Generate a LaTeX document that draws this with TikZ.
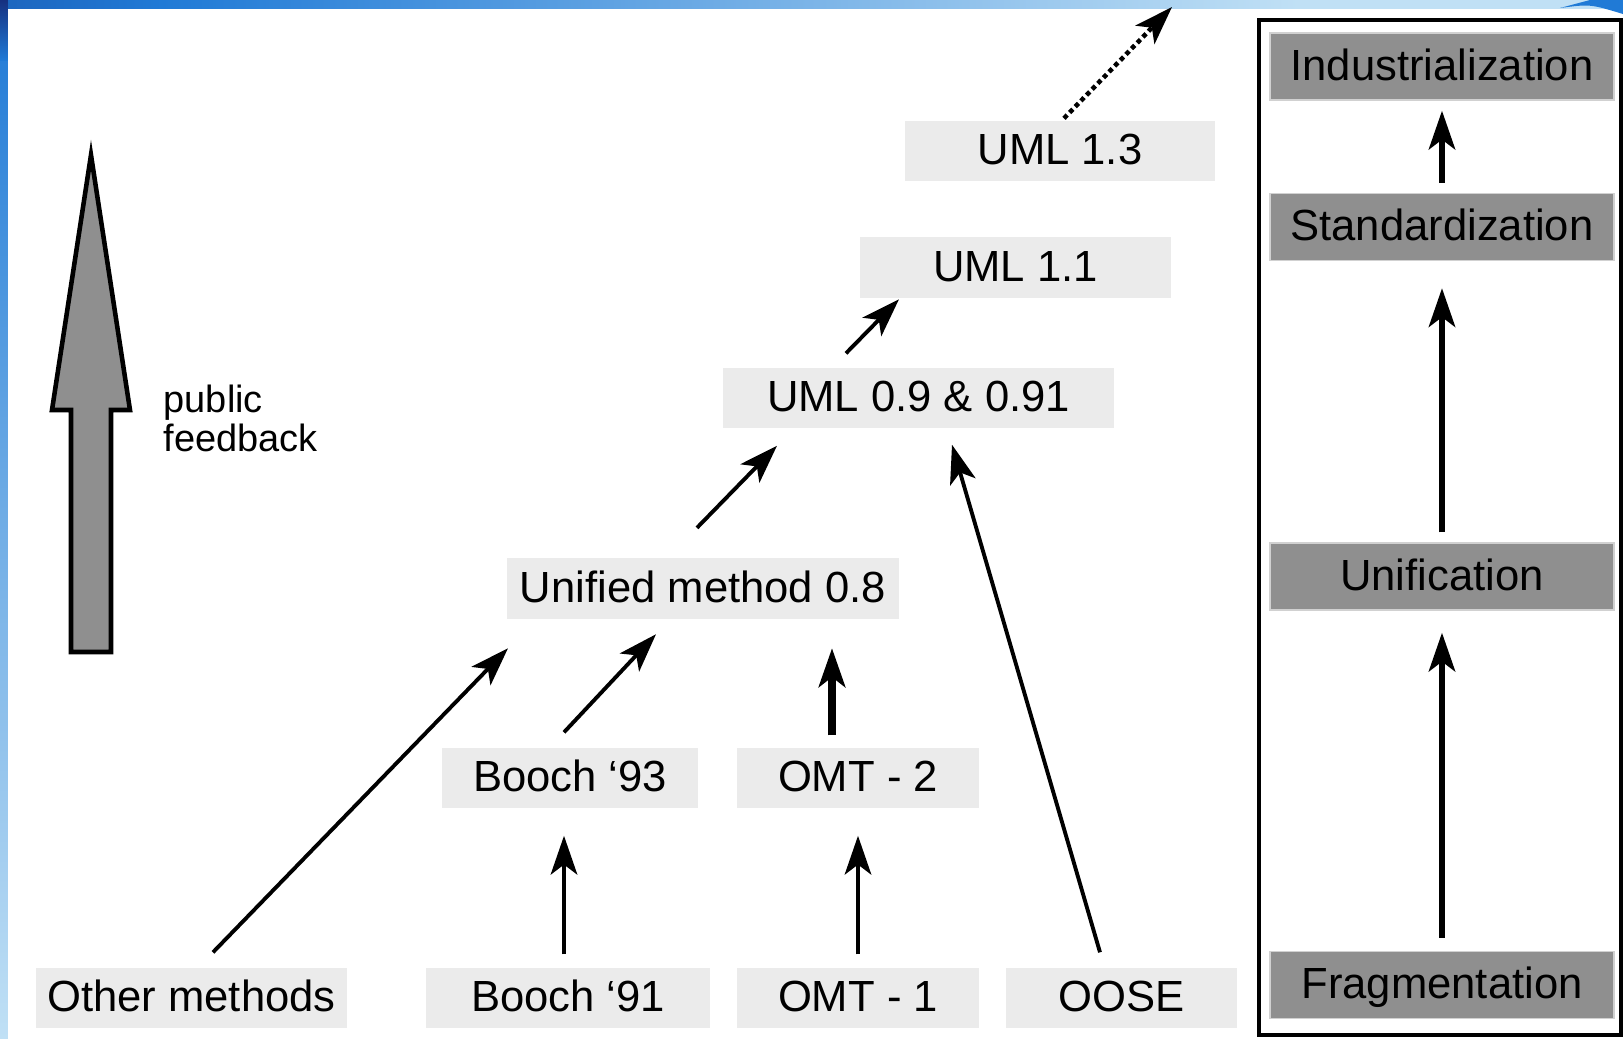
\documentclass[tikz,border=0pt]{standalone}
\usepackage{fontspec}
\setmainfont{Liberation Sans}
\usetikzlibrary{arrows.meta,calc}

\definecolor{boxlight}{RGB}{235,235,235}
\definecolor{stagegray}{RGB}{143,143,143}
\definecolor{bgnavy}{RGB}{22,48,128}
\definecolor{bgblue}{RGB}{32,122,214}
\definecolor{bglight}{RGB}{192,224,245}

\pgfdeclarehorizontalshading{topband}{100bp}{color(0bp)=(bgnavy); color(12bp)=(bgnavy); color(30bp)=(bgblue); color(65bp)=(bglight); color(94bp)=(bglight); color(100bp)=(bgblue)}

\tikzset{
  method/.style={fill=boxlight, inner sep=0pt, minimum height=6mm,
    text height=9.8pt, text depth=2pt, font=\fontsize{12.4}{14}\selectfont},
  stage/.style={method, fill=stagegray, draw=black!18, line width=0.4pt,
    minimum width=34.4mm, minimum height=6.7mm},
  flow/.style={-{Stealth[length=11pt,width=7.5pt,inset=2.8pt]}, line width=1.1pt},
  upflow/.style={flow, line width=1.6pt},
}

\begin{document}
\begin{tikzpicture}[x=0.01cm, y=-0.01cm]
      \useasboundingbox (0,0) rectangle (1623,1038);

      % Slide border
      \shade[shading=topband] (0,0) rectangle (1623,8);
      \shade[top color=bgblue, bottom color=bglight] (0,8) rectangle (8,1038);
      \shade[top color=bgnavy, bottom color=bgblue] (0,0) rectangle (8,60);
      \fill[bgblue] (1560,8) .. controls (1590,4) .. (1623,14) -- (1623,0) -- (1590,0) -- cycle;

      % Public feedback arrow
      \filldraw[fill=stagegray, line width=1.3pt, line join=miter]
        (71,652) -- (71,410) -- (52,410) -- (91,155) -- (130,410) -- (111,410) -- (111,652) -- cycle;
      \node[anchor=north west, inner sep=0pt, align=left, font=\fontsize{10.8}{11.1}\selectfont]
        (feedback) at (163,384) {public\\feedback};

      % Methods
      \node[method, minimum width=31.1mm] (other) at (191.5,998) {Other methods};
      \node[method, minimum width=28.4mm] (booch91) at (568,998) {Booch ‘91};
      \node[method, minimum width=24.2mm] (omt1) at (858,998) {OMT - 1};
      \node[method, minimum width=23.1mm] (oose) at (1121.5,998) {OOSE};
      \node[method, minimum width=25.6mm] (booch93) at (570,778) {Booch ‘93};
      \node[method, minimum width=24.2mm] (omt2) at (858,778) {OMT - 2};
      \node[method, minimum width=39.2mm] (um08) at (703,588.5) {Unified method 0.8};
      \node[method, minimum width=39.1mm] (uml09) at (918.5,398) {UML 0.9 \& 0.91};
      \node[method, minimum width=31.1mm] (uml11) at (1015.5,267.5) {UML 1.1};
      \node[method, minimum width=31mm] (uml13) at (1060,151) {UML 1.3};
      \coordinate (next) at (1172,7);

      \draw[flow] ($(other.north)+(21.5,-15)$) -- ($(um08.south)+(-195,29)$);
      \draw[flow] ($(booch93.north)+(-6,-15)$) -- ($(um08.south)+(-47,15)$);
      \draw[flow, line width=2.1pt] ($(omt2.north)+(-26,-12)$) -- ($(um08.south)+(129,29)$);
      \draw[flow, line width=1.4pt] ($(booch91.north)+(-4,-13)$) -- ($(booch93.south)+(-6,27)$);
      \draw[flow, line width=1.4pt] ($(omt1.north)+(0,-13)$) -- ($(omt2.south)+(0,27)$);
      \draw[flow] ($(oose.north)+(-21.5,-15)$) -- ($(uml09.south)+(33.5,16)$);
      \draw[flow] ($(um08.north)+(-6,-30)$) -- ($(uml09.south)+(-141.5,17)$);
      \draw[flow] ($(uml09.north)+(-72.5,-14)$) -- ($(uml11.south)+(-116.5,1)$);
      \draw[flow, line width=1.3pt, densely dotted] ($(uml13.north)+(4,-2)$) -- (next);

      % Stages
      \draw[line width=1.4pt] (1259,20) rectangle (1621,1035);
      \foreach \name/\txt/\y in {ind/Industrialization/66.5, std/Standardization/227,
                                 uni/Unification/576.5, frag/Fragmentation/985} {
          \node[stage] (\name) at (1442,\y) {\txt};
      }
      \draw[upflow] ($(frag.north)+(0,-13)$) -- ($(uni.south)+(0,22)$);
      \draw[upflow] ($(uni.north)+(0,-10)$) -- ($(std.south)+(0,27)$);
      \draw[upflow] ($(std.north)+(0,-10)$) -- ($(ind.south)+(0,10)$);
\end{tikzpicture}
\end{document}
